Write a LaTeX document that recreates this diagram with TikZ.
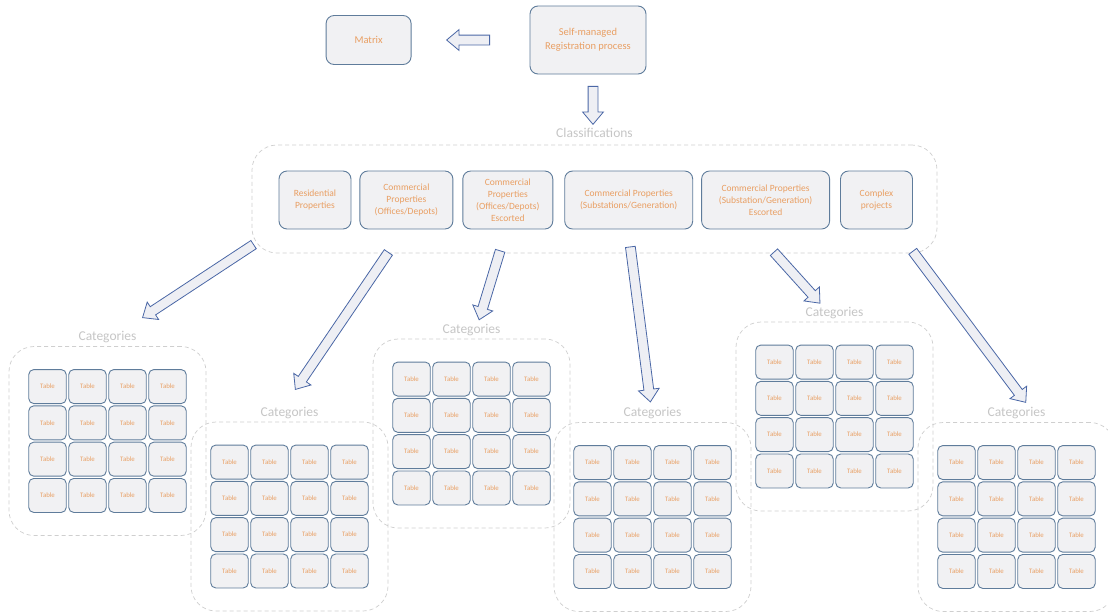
\documentclass[tikz,border=0pt]{standalone}
\usepackage{fontspec}
\setmainfont{Carlito}
\usepackage{tikz}
\usetikzlibrary{positioning, calc, shapes.arrows}
\definecolor{boxline}{HTML}{5F7C9B}
\definecolor{boxfill}{HTML}{F1F1F3}
\definecolor{txtor}{HTML}{E99F63}
\definecolor{dashgray}{HTML}{CFCFCF}
\definecolor{lblgray}{HTML}{C6C6C6}
\definecolor{arrline}{HTML}{4A67A6}
\definecolor{arrfill}{HTML}{EEEFF4}

\begin{document}
\begin{tikzpicture}[x=1pt, y=-1pt,
    box/.style={draw=boxline, fill=boxfill, line width=0.9pt, rounded corners=8pt, align=center, text=txtor, inner sep=2pt},
    cls/.style={box, minimum height=58pt, font=\fontsize{9.5}{12}\selectfont},
    cell/.style={box, rounded corners=5pt, minimum width=37.5pt, minimum height=34pt, font=\fontsize{6.8}{8}\selectfont},
    grp/.style={draw=dashgray, dash pattern=on 4pt off 3pt, line width=0.7pt, rounded corners=25pt},
    grplabel/.style={text=lblgray, font=\fontsize{13.5}{16}\selectfont, inner sep=0pt},
    barrow/.style={single arrow, draw=arrline, fill=arrfill, line width=0.8pt, inner xsep=0pt, inner ysep=4.5pt, minimum width=20pt, single arrow head extend=5.5pt, single arrow tip angle=80}
  ]
  \clip (0,0) rectangle (1108,611);
  \fill[white] (0,0) rectangle (1108,611);

  % registration and matrix
  \node[box, minimum width=116pt, minimum height=68pt, font=\fontsize{10.5}{14}\selectfont] (reg) at (588,40) {Self-managed\\Registration process};
  \node[box, minimum width=85pt, minimum height=49pt, font=\fontsize{10.5}{14}\selectfont, left=118pt of reg] (matrix) {Matrix};

  % classifications
  \node[grp, minimum width=685pt, minimum height=108pt] (clsgrp) at (594.5,199) {};
  \node[grplabel, above=7pt of clsgrp] (clslbl) {Classifications};
  \node[cls, minimum width=72pt] (c1) at (315,200) {Residential\\Properties};
  \node[cls, minimum width=93pt, right=8pt of c1] (c2) {Commercial\\Properties\\(Offices/Depots)};
  \node[cls, minimum width=90pt, right=9pt of c2] (c3) {Commercial\\Properties\\(Offices/Depots)\\Escorted};
  \node[cls, minimum width=128pt, right=11pt of c3] (c4) {Commercial Properties\\(Substations/Generation)};
  \node[cls, minimum width=128pt, right=8pt of c4] (c5) {Commercial Properties\\(Substation/Generation)\\Escorted};
  \node[cls, minimum width=72pt, right=10pt of c5] (c6) {Complex\\projects};

  % categories
  \foreach \g/\x/\y in {1/107.5/441, 2/289.5/516.5, 3/471.5/433.5, 4/652.5/517, 5/834.5/416.5, 6/1016.5/517}{
    \node[grp, minimum width=197pt, minimum height=189pt] (grp\g) at (\x,\y) {};
    \node[grplabel, above=3pt of grp\g] (lbl\g) {Categories};
    \foreach \r in {1,...,4}{
      \foreach \c in {1,...,4}{
        \node[cell] (t\g-\r-\c) at ($(grp\g)+(-100+40*\c,-90.75+36.3*\r)$) {Table};
      }
    }
  }

  % arrows
  \coordinate (s1) at (256,243);  \coordinate (e1) at (145,316);
  \coordinate (s2) at (390,250);  \coordinate (e2) at (297,387);
  \coordinate (s3) at (501,248);  \coordinate (e3) at (480,317);
  \coordinate (s4) at (630,244);  \coordinate (e4) at (650,399);
  \coordinate (s5) at (772,250);  \coordinate (e5) at (818,301);
  \coordinate (s6) at (911,249);  \coordinate (e6) at (1024,400);
  \coordinate (s7) at ([xshift=-37pt]reg.west);
  \coordinate (e7) at ([xshift=38pt]matrix.east);
  \coordinate (s8) at ([xshift=5pt,yshift=-9pt]reg.south);
  \coordinate (e8) at ([xshift=5pt,yshift=-47pt]reg.south);
  \foreach \i in {1,...,8}{
    \path let \p1=($(e\i)-(s\i)$), \n1={atan2(\y1,\x1)}, \n2={veclen(\x1,\y1)} in
      node[barrow, minimum height=\n2, rotate=\n1] (arr\i) at ($(s\i)!0.5!(e\i)$) {};
  }
\end{tikzpicture}
\end{document}
